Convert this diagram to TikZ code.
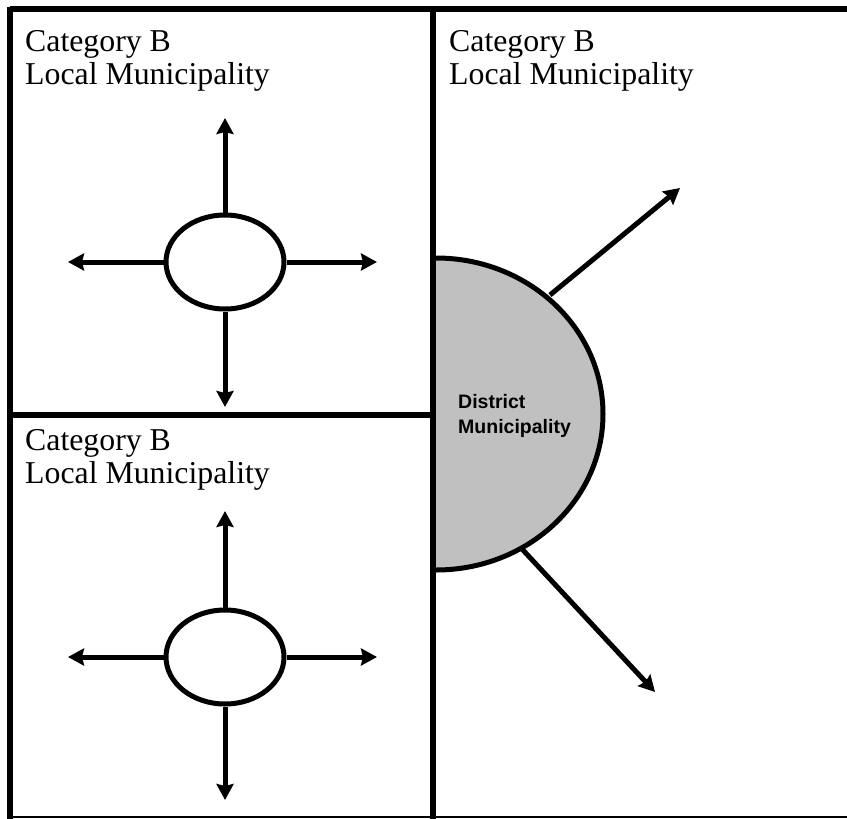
\documentclass[tikz,border=0pt]{standalone}
\usepackage{fontspec}
\setmainfont{Liberation Serif}
\newfontfamily\labelsans{Liberation Sans}
\usetikzlibrary{arrows.meta,shapes.geometric}
\definecolor{dmgray}{HTML}{C0C0C0}
\tikzset{
  panel/.style={line width=5.5pt},
  catlabel/.style={anchor=base west, inner sep=0pt, font=\fontsize{31.8}{33}\selectfont, align=left},
  lm/.style={ellipse, draw, line width=5pt, minimum width=118pt, minimum height=94pt, inner sep=0pt},
  arr/.style={line width=5pt, -{Stealth[length=16pt,width=17pt,inset=2pt]}},
  dmlabel/.style={anchor=base west, inner sep=0pt, font=\labelsans\bfseries\fontsize{19.5}{25}\selectfont, align=left}
}
\begin{document}
\begin{tikzpicture}[x=1pt,y=-1pt]
\useasboundingbox (0,0) rectangle (847,819);
% district municipality half ellipse
\filldraw[fill=dmgray, draw=black, line width=5pt] (436,258) arc[start angle=90, end angle=-90, x radius=167pt, y radius=156pt];
\node[dmlabel] (dm) at (458,433) {District\\Municipality};
% frame
\draw[panel] (10,9) -- (847,9);
\draw[panel] (10,6.5) -- (10,819);
\draw[line width=2.5pt] (8,817) -- (847,817);
\draw[line width=6pt] (433,6.5) -- (433,819);
\draw[line width=5.5pt] (10,415) -- (430,415);
% texts
\node[catlabel] (t1) at (25,84) {Category B\\Local Municipality};
\node[catlabel] (t2) at (449,84) {Category B\\Local Municipality};
\node[catlabel] (t3) at (25,483) {Category B\\Local Municipality};
% top-left local municipality
\node[lm] (e1) at (225,262) {};
\coordinate (e1u) at (225,118);
\coordinate (e1d) at (225,407);
\coordinate (e1l) at (68,262);
\coordinate (e1r) at (377,262);
\draw[arr] (e1.north) -- (e1u);
\draw[arr] (e1.south) -- (e1d);
\draw[arr] (e1.west) -- (e1l);
\draw[arr] (e1.east) -- (e1r);
% bottom-left local municipality
\node[lm] (e2) at (225,657) {};
\coordinate (e2u) at (225,511);
\coordinate (e2d) at (225,800);
\coordinate (e2l) at (68,657);
\coordinate (e2r) at (377,657);
\draw[arr] (e2.north) -- (e2u);
\draw[arr] (e2.south) -- (e2d);
\draw[arr] (e2.west) -- (e2l);
\draw[arr] (e2.east) -- (e2r);
% diagonal arrows from district
\coordinate (d1s) at (550,295);
\coordinate (d1e) at (680,188);
\coordinate (d2s) at (522,549);
\coordinate (d2e) at (655,692);
\draw[arr] (d1s) -- (d1e);
\draw[arr] (d2s) -- (d2e);
\end{tikzpicture}
\end{document}
